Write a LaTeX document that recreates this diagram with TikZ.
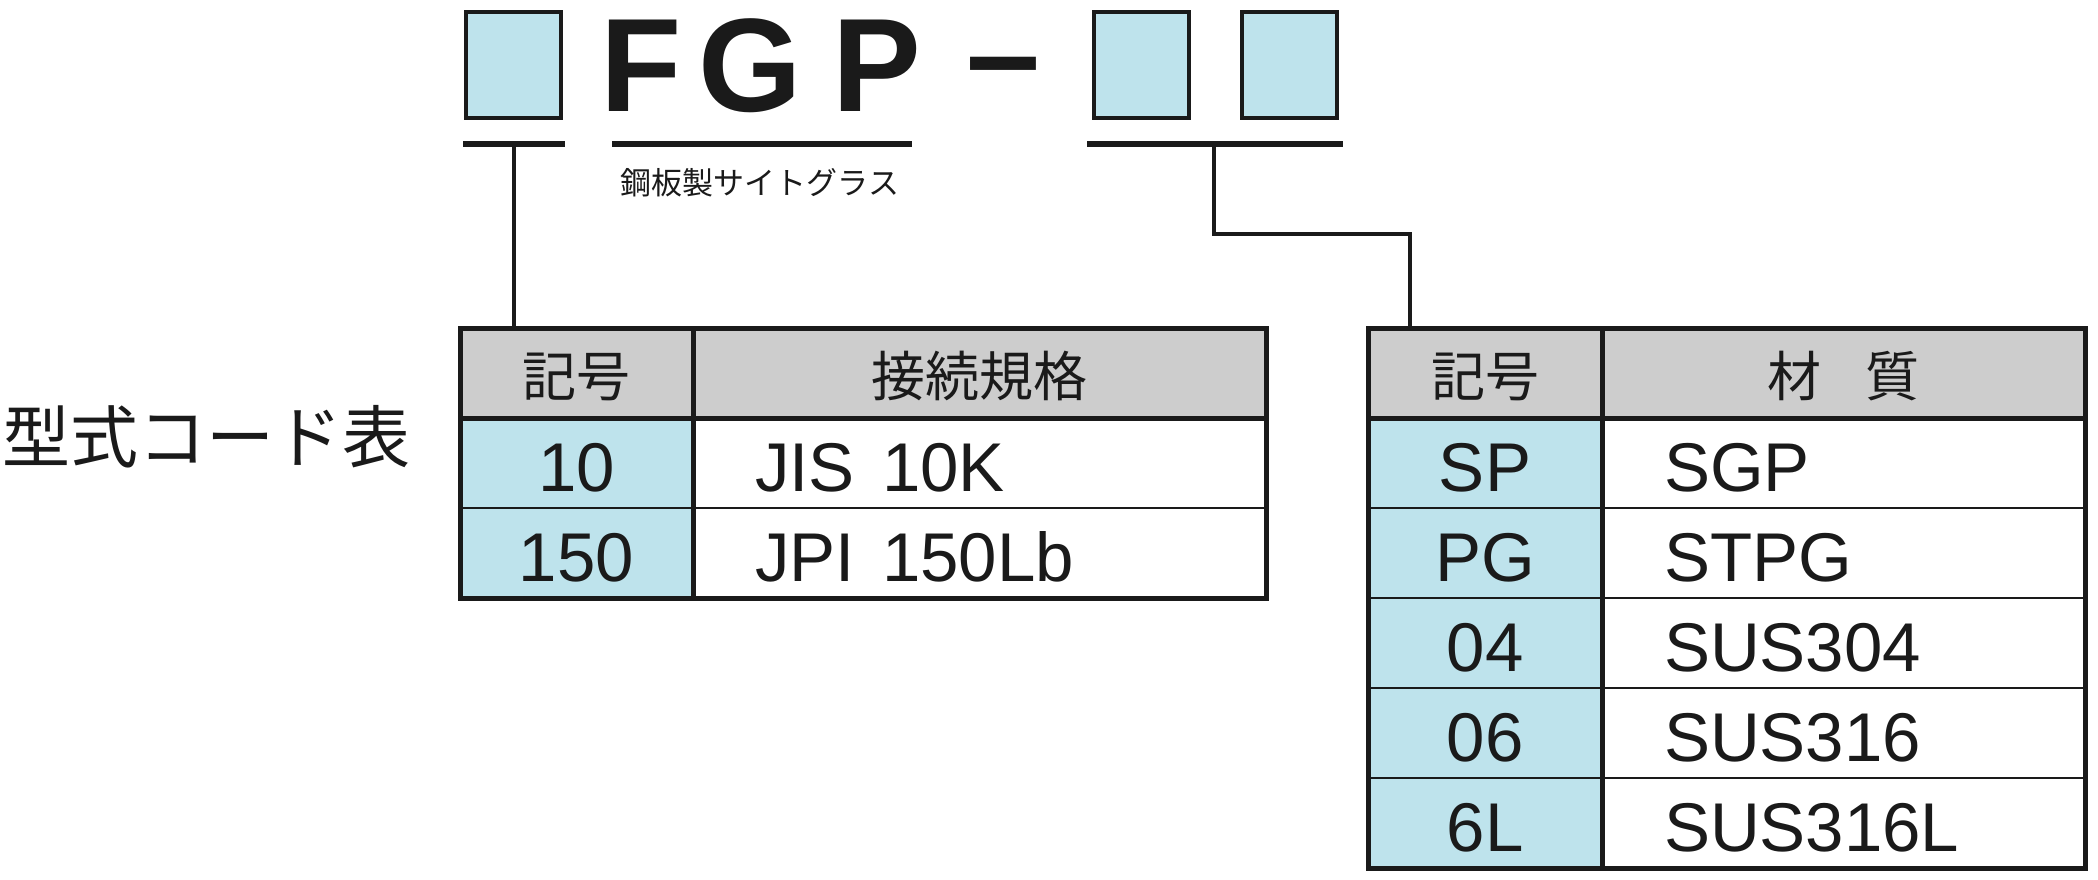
\documentclass[tikz,border=0pt]{standalone}
\usepackage{fontspec}
\setmainfont{Liberation Sans}
\newfontfamily\jpfont{Noto Sans CJK JP}
\usepackage{xcolor}
\definecolor{codeblue}{RGB}{190,227,236}
\definecolor{headgrey}{RGB}{205,205,205}
\definecolor{ink}{RGB}{26,26,26}
\newcommand{\cellfont}{\fontsize{69}{69}\selectfont}
\newcommand{\headfont}{\jpfont\fontsize{54}{54}\selectfont}
\newcommand{\bigfont}{\bfseries\fontsize{133}{133}\selectfont}
\newcommand{\subtitlefont}{\jpfont\fontsize{31}{31}\selectfont}
\newcommand{\labelfont}{\jpfont\fontsize{68}{68}\selectfont}

\begin{document}
\begin{tikzpicture}[
    x=1pt, y=-1pt,
    codebox/.style={draw=ink, line width=4pt, fill=codeblue, minimum width=95pt, minimum height=106pt, inner sep=0pt},
    bigletter/.style={anchor=base, inner sep=0pt, font=\bigfont, text=ink},
    underbar/.style={draw=ink, line width=6.5pt},
    wire/.style={draw=ink, line width=4.5pt},
    cell/.style={draw=ink, line width=2.5pt, minimum height=90pt, inner sep=0pt, outer sep=0pt, text height=56pt, text depth=0pt, font=\cellfont, text=ink},
    headcell/.style={cell, fill=headgrey, font=\headfont, text height=47pt},
    codecell/.style={cell, fill=codeblue, minimum width=233pt},
    lval/.style={cell, fill=white, inner xsep=62pt, text width=449pt, align=left},
    rval/.style={cell, fill=white, inner xsep=62pt, text width=359pt, align=left},
    tableframe/.style={draw=ink, line width=5pt}
]
    \useasboundingbox (0,0) rectangle (2098,880);

    % model code
    \node[codebox] (box1) at (513,65) {};
    \node[bigletter] (lF) at (641,112) {F};
    \node[bigletter] (lG) at (750,112) {G};
    \node[bigletter] (lP) at (877,112) {P};
    \node[bigletter] (dash) at (1003.5,99.5) {–};
    \node[codebox] (box2) at (1141,65) {};
    \node[codebox] (box3) at (1289,65) {};

    \draw[underbar] (463,144) -- (565,144);
    \draw[underbar] (612,144) -- (912,144);
    \draw[underbar] (1087,144) -- (1343,144);
    \node[anchor=base, inner sep=0pt, font=\subtitlefont, text=ink] (sub) at (760,194.5) {鋼板製サイトグラス};

    \node[anchor=base, inner sep=0pt, font=\labelfont, text=ink] (title) at (206,462) {型式コード表};

    % connection table
    \node[headcell, minimum width=233pt] (lh1) at (576.5,373) {記号};
    \node[headcell, minimum width=573pt] (lh2) at (979.5,373) {接続規格};
    \node[codecell] (lc1) at (576.5,463) {10};
    \node[lval] (lv1) at (979.5,463) {JIS\hspace{0.4em}10K};
    \node[codecell] (lc2) at (576.5,553) {150};
    \node[lval] (lv2) at (979.5,553) {JPI\hspace{0.4em}150Lb};
    \draw[tableframe] (lh1.north west) rectangle (lv2.south east);
    \draw[tableframe] (lh1.south west) -- (lh2.south east);
    \draw[tableframe] (lh1.north east) -- (lc2.south east);

    % material table
    \node[headcell, minimum width=234pt] (rh1) at (1485,373) {記号};
    \node[headcell, minimum width=483pt] (rh2) at (1843.5,373) {材\hspace{0.8em}質};
    \node[codecell, minimum width=234pt] (rc1) at (1485,463) {SP};
    \node[rval] (rv1) at (1843.5,463) {SGP};
    \node[codecell, minimum width=234pt] (rc2) at (1485,553) {PG};
    \node[rval] (rv2) at (1843.5,553) {STPG};
    \node[codecell, minimum width=234pt] (rc3) at (1485,643) {04};
    \node[rval] (rv3) at (1843.5,643) {SUS304};
    \node[codecell, minimum width=234pt] (rc4) at (1485,733) {06};
    \node[rval] (rv4) at (1843.5,733) {SUS316};
    \node[codecell, minimum width=234pt] (rc5) at (1485,823) {6L};
    \node[rval] (rv5) at (1843.5,823) {SUS316L};
    \draw[tableframe] (rh1.north west) rectangle (rv5.south east);
    \draw[tableframe] (rh1.south west) -- (rh2.south east);
    \draw[tableframe] (rh1.north east) -- (rc5.south east);

    % leaders
    \coordinate (t1) at (514,144);
    \coordinate (t3) at (1214,144);
    \coordinate (k3) at (1410,234);
    \draw[wire] (t1) -- (t1 |- lh1.north);
    \draw[wire] (t3) |- (k3) -- (k3 |- rh1.north);
\end{tikzpicture}
\end{document}
